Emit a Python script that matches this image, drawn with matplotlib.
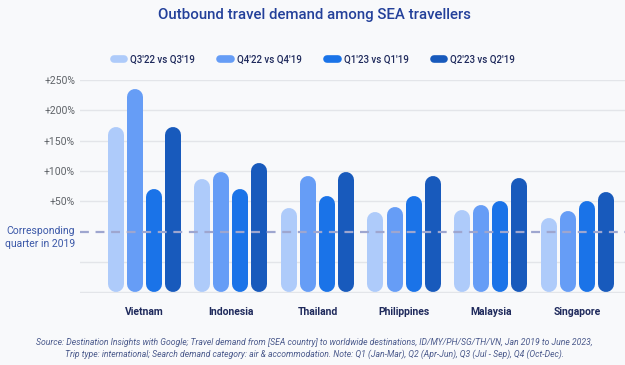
import numpy as np
import matplotlib
matplotlib.use('Agg')
import matplotlib.pyplot as plt
from matplotlib.lines import Line2D

plt.rcParams['font.family'] = ['Roboto', 'DejaVu Sans']

countries = ['Vietnam', 'Indonesia', 'Thailand', 'Philippines', 'Malaysia', 'Singapore']
series_names = ["Q3'22 vs Q3'19", "Q4'22 vs Q4'19", "Q1'23 vs Q1'19", "Q2'23 vs Q2'19"]
q3_22 = [173, 87, 39, 33, 36, 23]
q4_22 = [235, 98, 91, 41, 44, 34]
q1_23 = [70, 70, 59, 59, 51, 51]
q2_23 = [173, 113, 98, 91, 88, 65]
yticks = [50, 100, 150, 200, 250]
ytick_labels = ['+50%', '+100%', '+150%', '+200%', '+250%']

colors = ['#aecbfa', '#669df6', '#1a73e8', '#185abc']
BG = '#f8f9fb'
BASE = -100  # bars start at the bottom of the plot

fig = plt.figure(figsize=(6.25, 3.65), dpi=100, facecolor=BG)
ax = fig.add_axes([0.128, 0.197, 0.872, 0.584], facecolor=BG)
ax.set_xlim(-0.74, 5.55)
ax.set_ylim(-101, 250)

for y in [-100, -50] + yticks:
    ax.axhline(y, color='#e3e5e9', lw=1, zorder=0)

# rounded bars as thick lines with round caps
W = 16  # px
px_per_unit = ax.transData.transform((0, 1))[1] - ax.transData.transform((0, 0))[1]
r = (W / 2) / px_per_unit
offsets = [-0.33, -0.11, 0.11, 0.33]
for k, vals in enumerate([q3_22, q4_22, q1_23, q2_23]):
    for i, v in enumerate(vals):
        ax.add_line(Line2D([i + offsets[k]] * 2, [BASE + r, v - r], lw=W * 0.72,
                           color=colors[k], solid_capstyle='round', zorder=2))

ax.axhline(0, color='#9ea6cf', lw=1.6, dashes=(4, 3), zorder=3)

ax.set_yticks(yticks)
ax.set_yticklabels(ytick_labels, color='#5f6368', fontsize=7.5)
ax.set_xticks(range(len(countries)))
ax.set_xticklabels(countries, color='#1f2a5c', fontsize=7.5, fontweight='semibold')
ax.tick_params(length=0, pad=3.5)
ax.tick_params(axis='x', pad=10)
for s in ax.spines.values():
    s.set_visible(False)

ax.annotate('Corresponding\nquarter in 2019', xy=(0, 0), xycoords=('axes fraction', 'data'),
            xytext=(-3.5, 4), textcoords='offset points', ha='right', va='top',
            color='#3b58a8', fontsize=7.5, linespacing=1.3)

fig.text(0.503, 0.958, 'Outbound travel demand among SEA travellers', ha='center', va='center',
         color='#23409a', fontsize=10.8, fontweight='medium')

handles = [Line2D([0], [0], color=c, lw=5.5, solid_capstyle='round') for c in colors]
fig.legend(handles, series_names, loc='center', bbox_to_anchor=(0.503, 0.836), ncol=4,
           frameon=False, handlelength=1.1, handletextpad=0.6, columnspacing=2.6,
           labelcolor='#1f2a5c', prop={'size': 7, 'weight': 'medium'})

fig.text(0.503, 0.045, 'Source: Destination Insights with Google; Travel demand from [SEA country] to worldwide '
         'destinations, ID/MY/PH/SG/TH/VN, Jan 2019 to June 2023,\nTrip type: international; Search demand '
         'category: air & accommodation. Note: Q1 (Jan-Mar), Q2 (Apr-Jun), Q3 (Jul - Sep), Q4 (Oct-Dec).',
         ha='center', va='center', color='#4b5a8c', fontsize=6.2, style='italic', linespacing=1.4)

fig.savefig('out.png', dpi=100, facecolor=BG)
